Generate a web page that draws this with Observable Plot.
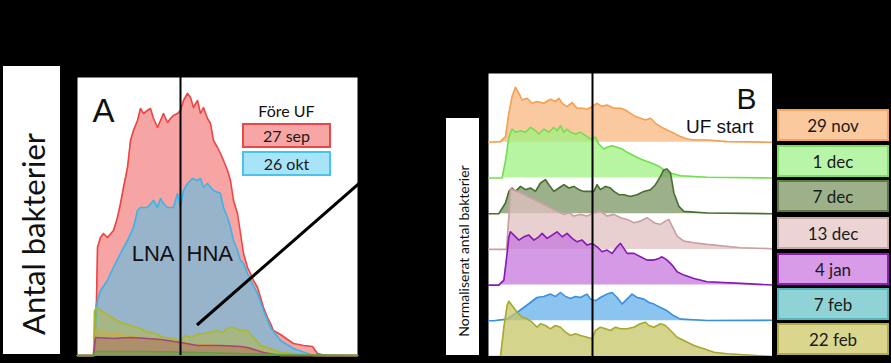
<!DOCTYPE html>
<html><head><meta charset="utf-8">
<script src="https://cdn.jsdelivr.net/npm/d3@7"></script>
<script src="https://cdn.jsdelivr.net/npm/@observablehq/plot@0.6"></script>
<style>
html,body{margin:0;padding:0;background:#000;}
#fig{position:relative;width:891px;height:363px;background:#000;overflow:hidden;font-family:Lato,"Open Sans",sans-serif;}
.abs{position:absolute;box-sizing:border-box;}
.lbox{display:flex;align-items:center;justify-content:center;color:#1a1a1a;font-size:17px;border-style:solid;border-width:2px;}
.rot{position:absolute;white-space:nowrap;transform:translate(-50%,-50%) rotate(-90deg);color:#111;}
</style></head><body><div id="fig"></div>
<script>
// ---------- Panel A: absolute counts per fluorescence channel ----------
const aSep27 = [[0,0],[8,0],[9.5,55],[10,108],[11.5,118],[13,122],[15,118],[18,125],[20,138],[21.5,152],[23,168],[25,188],[26.5,215],[28,225],[30,235],[31.5,247],[33,242],[35,245],[36.5,247],[38,237],[40,228],[41.5,235],[43,242],[45,233],[46.5,237],[48,240],[50,242],[51.5,245],[53,255],[55,262],[56.5,258],[58,248],[60,255],[61.5,242],[63,248],[65,237],[66.5,232],[68,215],[70,208],[71.5,202],[73,195],[75,185],[76.5,175],[78,155],[80,142],[81.5,122],[83,102],[85,88],[86.5,82],[88,75],[90,68],[91.5,58],[93,48],[95,38],[96.5,32],[98,25],[101.5,21],[105,16],[108,12],[113,10],[117.5,9],[120,2],[124,0],[140,0]];
const aOkt26 = [[0,0],[8.5,0],[9.5,45],[10,55],[11.5,65],[15,75],[16.5,82],[18,88],[21.5,102],[25,115],[28,128],[30,145],[31.5,148],[35,148],[38,155],[40,148],[41.5,157],[43,152],[45,148],[48,148],[50,162],[51.5,148],[53,165],[55,172],[57.5,177],[60,175],[61.5,177],[63,168],[65,172],[68,165],[71.5,162],[73,148],[75,138],[76.5,128],[78,115],[80,105],[81.5,95],[83,92],[86.5,75],[90,62],[93,45],[96.5,28],[101.5,15],[108,7],[115,2],[118,0],[140,0]];
const a29nov = [[0,0],[8,0],[9,25],[16.5,22],[26.5,19],[41.5,15],[56.5,12],[76.5,9],[91.5,5],[101.5,0],[140,0]];
const a22feb = [[0,0],[8,0],[8.5,45],[10,48],[11.5,45],[18,37],[21.5,33],[26.5,30],[31.5,27],[35,23],[39,22],[43,18],[47.5,17],[51.5,15],[54,20],[56.5,18],[60,21],[63,22],[66.5,23],[70,25],[72.5,23],[75.5,28],[78,28],[81.5,25],[85,25],[88,18],[91.5,10],[95,8],[101.5,3],[118,0],[140,0]];
const a4jan = [[0,0],[8,0],[9,18],[18,17],[26.5,18],[35,17],[41.5,16],[45,15],[51.5,13],[60,10],[71.5,10],[81.5,9],[85,8],[93,3],[101.5,0],[140,0]];
const a7dec = [[0,0],[8,0],[9,4],[35,4],[60,3],[100,1],[140,0]];
const gateA = 51.5;           // LNA / HNA gate
const legendA = ["27 sep", "26 okt"];

// ---------- Panel B: normalised counts, one ridge per date ----------
const datesB = ["29 nov", "1 dec", "7 dec", "13 dec", "4 jan", "7 feb", "22 feb"];
const b29nov = [[0,0],[6,0.7],[8.5,5.7],[10.2,29],[11.8,45.7],[13.5,55],[15.2,49],[16.8,42.3],[19.3,44],[21.8,39],[24.3,40.7],[27.7,39],[31,43],[33.5,40.7],[35.2,44],[36.8,39],[39.3,35.7],[41.8,39.7],[44.3,34],[46.8,34],[49.3,33],[51.8,35.7],[54.3,39],[56.8,35.7],[59.3,37.3],[62.7,34],[66,34],[68.5,32.3],[71,29],[73.5,25.7],[76,24],[78.5,22.3],[81,24],[83.5,19],[86,15.7],[89.3,12.3],[92.7,9],[96,5.7],[99.3,3.3],[102.7,2.3],[109.3,2.3],[119.3,0.7],[142,0]];
const b1dec = [[0,0],[6.8,0],[8.5,17.3],[10.2,40.7],[11.8,49],[13.5,45.7],[16,47.3],[18.5,45.7],[21,50.7],[23.5,47.3],[25.2,44],[27.7,49],[30.2,45.7],[32.7,50.7],[34.3,47.3],[36,52.3],[37.7,45.7],[39.3,49],[41,45.7],[43.5,44],[46,45.7],[48.5,42.3],[51,39],[53.5,40.7],[55.2,34],[57.7,29],[59.3,30.7],[61.8,32.3],[64.3,30.7],[66.8,29],[69.3,25.7],[72.7,22.3],[76,19],[78.3,17.3],[82.7,14],[86,10.7],[89.3,5.7],[92.7,4],[96,2.3],[109.3,0.7],[142,0]];
const b7dec = [[0,0],[5.2,0],[8.5,10.7],[10.2,22.3],[11.8,25.7],[13.5,22.3],[16,27.3],[18.5,24],[21,25.7],[23.5,22.3],[26,30.7],[28.5,34],[30.2,29],[32.7,22.3],[35.2,25.7],[37.7,29],[40.2,25.7],[42.7,27.3],[45.2,24],[47.7,22.3],[50.2,22.3],[52.7,22.3],[54.3,29],[56,24],[58.5,27.3],[61,25.7],[62.7,22.3],[65.2,19],[67.7,19],[71,17.3],[74.3,19],[77.7,22.3],[81,24],[83.5,29],[86,37.3],[87.7,44],[89.3,44.7],[91,40.7],[92.7,20.7],[95.2,7.3],[97.7,2.3],[109.3,0.7],[142,0]];
const b13dec = [[0,0],[9,0],[10.2,33.3],[11,60.7],[16,56.7],[21,51.7],[26,46.7],[31,41.7],[35.2,37.3],[37.7,35],[40.2,36.7],[42.7,33.3],[46,35],[49.3,33.3],[52.7,36.7],[56,38.3],[59.3,33.3],[62.7,35],[66,31.7],[69.3,30],[72.7,26.7],[76,28.3],[79.3,31.7],[82.7,26.7],[86,25],[88.5,28.3],[90.2,30],[91.8,23.3],[94.3,13.3],[97.7,8.3],[102.7,6.7],[109.3,5],[126,1.7],[142,0.7]];
const b4jan = [[0,0],[5.2,0],[7.7,5],[9.3,31.7],[10.2,48.3],[11,53.3],[12.7,50],[15.2,45],[17.7,48.3],[20.2,50],[22.7,45],[25.2,48.3],[26.8,51.7],[29.3,46.7],[31.8,50],[34.3,53.3],[36.8,48.3],[39.3,51.7],[41.8,46.7],[44.3,43.3],[46.8,45],[49.3,40],[51.8,41.7],[54.3,38.3],[56.8,33.3],[59.3,35],[61.8,31.7],[64.3,38.3],[66,41.7],[67.7,36.7],[69.3,31.7],[72.7,31.7],[76,28.3],[79.3,25],[82.7,25],[85.2,26.7],[86.8,28.3],[89.3,25],[91.8,20],[94.3,13.3],[97.7,10],[102.7,6.7],[109.3,3.3],[126,1.7],[142,0]];
const b7feb = [[0,0],[2.7,0],[9.3,1.7],[14.3,8.3],[17.7,13.3],[21,18.3],[24.3,23.3],[27.7,24.3],[31,26.7],[33.5,24.3],[36,28.3],[38.5,24.3],[41,22.3],[43.5,24.3],[46,23.3],[49.3,26.7],[51,21.7],[53.5,20],[56,23.3],[59.3,26.7],[61.8,28.3],[64.3,23.3],[66.8,16.7],[69.3,21.7],[71.8,26.7],[74.3,23.3],[77.7,21.7],[80.2,18.3],[82.7,16.7],[86,13.3],[89.3,10],[92.7,5],[96,1.7],[109.3,0.3],[142,0.5]];
const b22feb = [[0,0],[6,0],[7.7,29.3],[9.3,51],[10.2,55.3],[11.8,51],[14.3,44.3],[16.8,39.3],[19.3,37.7],[21.8,34.3],[24.3,29.3],[26,32.7],[28.5,31],[31,27.7],[33.5,31],[36,29.3],[38.5,24.3],[41,21],[43.5,22.7],[46,21],[49.3,19.3],[51.8,17.7],[53.5,26],[56,29.3],[58.5,27.7],[61,26],[63.5,29.3],[66,27.7],[69.3,27.7],[72.7,29.3],[76,32.7],[78.5,34.3],[80.2,31],[82.7,29.3],[86,32.7],[88.5,31],[91,26],[94.3,19.3],[97.7,16],[102.7,11],[107.7,7.7],[112.7,4.3],[119.3,2.7],[142,0]];
const gateB = 52;
const rowStep = 35.7;

// ---------- styles ----------
const ridgeFill   = ["#fab780","#a0f280","#7b9666","#e0c0c0","#c678de","#66b0eb","#c6c666"];
const ridgeStroke = ["#f5a050","#74dd52","#4a6e30","#c8a0a0","#8a18b4","#3a90e0","#a8a830"];
const legFill     = ["#fbc99e","#b8f5a8","#9db08a","#ecd4d4","#d79be8","#8fd3d6","#dbd68e"];
const legBorder   = ["#f4a460","#7ee060","#5e7a44","#c9a9a9","#8e1fb0","#58b4bc","#b3ab48"];

const fig = document.getElementById("fig");
function el(tag, cls, css, text) {
  const e = document.createElement(tag);
  if (cls) e.className = cls;
  Object.assign(e.style, css);
  if (text != null) e.textContent = text;
  fig.appendChild(e);
  return e;
}
const rows = (arr) => arr.map(([x, y]) => ({x, y}));

// left y label
el("div", "abs", {left:"3px", top:"66px", width:"57px", height:"288px", background:"#fff"});
el("div", "rot", {left:"33px", top:"234px", fontSize:"31px"}, "Antal bakterier");

// ---------- Panel A plot ----------
const aSeries = [
  {d: aSep27, fill: "#f6a4a4", fo: 1, stroke: "#ee4444"},
  {d: aOkt26, fill: "#97b4cb", fo: 1, stroke: "#3cb4e6"},
  {d: a29nov, fill: "#e0a040", fo: 0.35, stroke: "#e8a040"},
  {d: a22feb, fill: "#b8b830", fo: 0.45, stroke: "#aab82a"},
  {d: a4jan,  fill: "#a04070", fo: 0.3, stroke: "#a04878"},
  {d: a7dec,  fill: "#60a040", fo: 0.4, stroke: "#60a040"}
];
const marksA = [Plot.frame({fill: "white", stroke: null})];
for (const s of aSeries) {
  marksA.push(Plot.areaY(rows(s.d), {x: "x", y: "y", fill: s.fill, fillOpacity: s.fo}));
  marksA.push(Plot.lineY(rows(s.d), {x: "x", y: "y", stroke: s.stroke, strokeWidth: 1.6}));
}
marksA.push(Plot.ruleX([gateA], {y1: 0, y2: 282, stroke: "black", strokeWidth: 2}));
marksA.push(Plot.text(["A"], {frameAnchor: "top-left", textAnchor: "start", lineAnchor: "top", dx: 15, dy: 21, fontSize: 33, fill: "#111", fontFamily: "Liberation Sans, Arial, sans-serif"}));
marksA.push(Plot.text(["LNA"], {x: gateA, y: 95, textAnchor: "end", lineAnchor: "bottom", dx: -6, fontSize: 22, fill: "#111", fontFamily: "Liberation Sans, Arial, sans-serif"}));
marksA.push(Plot.text(["HNA"], {x: gateA, y: 95, textAnchor: "start", lineAnchor: "bottom", dx: 6, fontSize: 22, fill: "#111", fontFamily: "Liberation Sans, Arial, sans-serif"}));
const plotA = Plot.plot({
  width: 280, height: 282, marginTop: 4, marginLeft: 0, marginRight: 0, marginBottom: 0,
  x: {domain: [0, 140], axis: null},
  y: {domain: [0, 278], axis: null},
  style: {background: "transparent", overflow: "visible"},
  marks: marksA
});
Object.assign(plotA.style, {position: "absolute", left: "77px", top: "73px"});
fig.appendChild(plotA);

// Panel A legend
el("div", "abs", {left:"242px", top:"101px", width:"89px", textAlign:"center", fontSize:"16px", color:"#111"}, "Före UF");
legendA.forEach((t, i) => {
  el("div", "abs lbox", {left:"242px", top: (123 + i*28) + "px", width:"89px", height:"25px",
    background: i === 0 ? "#f8a5a5" : "#a8e4f8", borderColor: i === 0 ? "#e84848" : "#48c4ec", fontSize:"16px"}, t);
});

// ---------- Panel B ----------
el("div", "abs", {left:"446px", top:"118px", width:"33px", height:"237px", background:"#fff"});
el("div", "rot", {left:"463px", top:"251px", fontSize:"14px"}, "Normaliserat antal bakterier");

const bSeries = [b29nov, b1dec, b7dec, b13dec, b4jan, b7feb, b22feb];
const marksB = [Plot.frame({fill: "white", stroke: null})];
bSeries.forEach((d, i) => {
  const off = (bSeries.length - 1 - i) * rowStep;
  const r = d.map(([x, y]) => ({x, base: off, top: off + y}));
  marksB.push(Plot.areaY(r, {x: "x", y1: "base", y2: "top", fill: ridgeFill[i], fillOpacity: 0.75}));
  marksB.push(Plot.lineY(r, {x: "x", y: "top", stroke: ridgeStroke[i], strokeWidth: 1.6}));
});
marksB.push(Plot.ruleX([gateB], {stroke: "black", strokeWidth: 2}));
marksB.push(Plot.text(["B"], {frameAnchor: "top-right", textAnchor: "end", lineAnchor: "top", dx: -16, dy: 14, fontSize: 30, fill: "#111", fontFamily: "Liberation Sans, Arial, sans-serif"}));
marksB.push(Plot.text(["UF start"], {frameAnchor: "top-right", textAnchor: "end", lineAnchor: "bottom", dx: -19, dy: 59, fontSize: 19, fill: "#111", fontFamily: "Liberation Sans, Arial, sans-serif"}));
const plotB = Plot.plot({
  width: 284, height: 283, margin: 0,
  x: {domain: [0, 142], axis: null},
  y: {domain: [0, 283], axis: null},
  style: {background: "transparent"},
  marks: marksB
});
Object.assign(plotB.style, {position: "absolute", left: "488px", top: "73px"});
fig.appendChild(plotB);

// right legend
const legTop = [109, 145, 180, 217, 253, 288, 323];
datesB.forEach((t, i) => {
  el("div", "abs lbox", {left:"777px", top: legTop[i] + "px", width:"112px", height:"32px",
    background: legFill[i], borderColor: legBorder[i]}, t);
});

// connector line from panel A to panel B
const ns = "http://www.w3.org/2000/svg";
const ov = document.createElementNS(ns, "svg");
ov.setAttribute("width", 891); ov.setAttribute("height", 363);
Object.assign(ov.style, {position: "absolute", left: 0, top: 0, pointerEvents: "none"});
const ln = document.createElementNS(ns, "line");
ln.setAttribute("x1", 197); ln.setAttribute("y1", 325); ln.setAttribute("x2", 489); ln.setAttribute("y2", 70);
ln.setAttribute("stroke", "#000"); ln.setAttribute("stroke-width", 3);
ov.appendChild(ln);
fig.appendChild(ov);
</script>
</body></html>
